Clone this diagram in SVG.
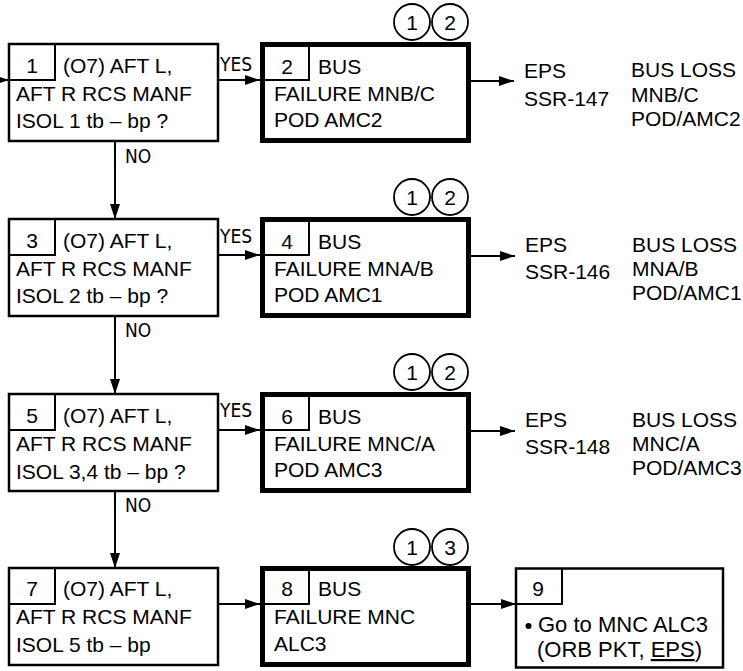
<svg xmlns="http://www.w3.org/2000/svg" width="743" height="671" viewBox="0 0 743 671">
<style>
  text { font-family: "Liberation Sans", Arial, sans-serif; font-size: 21px; fill: #000; }
  .lbl { font-family: "DejaVu Sans Condensed", "Liberation Sans", sans-serif; font-size: 19px; }
  .mid { text-anchor: middle; }
  .box { fill: #fff; stroke: #000; stroke-width: 2.5; }
  .thick { fill: #fff; stroke: #000; stroke-width: 5; }
  .sep { fill: none; stroke: #000; stroke-width: 2; }
  .circ { fill: #fff; stroke: #000; stroke-width: 1.8; }
  .conn { fill: none; stroke: #000; stroke-width: 2; marker-end: url(#arr); }
</style>
<defs>
  <marker id="arr" markerUnits="userSpaceOnUse" markerWidth="15" markerHeight="10" refX="15" refY="5" orient="auto">
    <path d="M0,0 L15,5 L0,10 z" fill="#000"/>
  </marker>
</defs>
<rect width="743" height="671" fill="#fff"/>

<g id="connectors">
  <line class="conn" x1="-10" y1="80" x2="9" y2="80"/>
  <line class="conn" x1="218" y1="80" x2="260" y2="80"/>
  <line class="conn" x1="471" y1="81" x2="514" y2="81"/>
  <line class="conn" x1="115" y1="141" x2="115" y2="219"/>
  <line class="conn" x1="218" y1="255" x2="260" y2="255"/>
  <line class="conn" x1="471" y1="256" x2="515" y2="256"/>
  <line class="conn" x1="115" y1="316" x2="115" y2="394"/>
  <line class="conn" x1="218" y1="430" x2="260" y2="430"/>
  <line class="conn" x1="471" y1="431" x2="515" y2="431"/>
  <line class="conn" x1="115" y1="491" x2="115" y2="568"/>
  <line class="conn" x1="218" y1="604" x2="260" y2="604"/>
  <line class="conn" x1="471" y1="604" x2="516" y2="604"/>
  <text class="lbl" x="220" y="71">YES</text>
  <text class="lbl" x="220" y="243">YES</text>
  <text class="lbl" x="220" y="417">YES</text>
  <text class="lbl" x="125" y="163">NO</text>
  <text class="lbl" x="125" y="337">NO</text>
  <text class="lbl" x="125" y="512">NO</text>
</g>

<g id="node1">
  <rect class="box" x="9" y="44" width="209" height="97"/>
  <path class="sep" d="M55,44 V80 H9"/>
  <text class="mid" x="32" y="72.5">1</text>
  <text x="63" y="72.5">(O7) AFT L,</text>
  <text x="16" y="100.5">AFT R RCS MANF</text>
  <text x="16" y="128">ISOL 1 tb – bp ?</text>
</g>
<g id="node2">
  <rect class="thick" x="262.5" y="44.5" width="206" height="96"/>
  <path class="sep" d="M309,44.5 V80 H262.5"/>
  <text class="mid" x="287" y="74">2</text>
  <text x="318" y="74">BUS</text>
  <text x="274" y="100.5">FAILURE MNB/C</text>
  <text x="274" y="127">POD AMC2</text>
  <circle class="circ" cx="412" cy="22" r="18"/>
  <circle class="circ" cx="450" cy="22" r="18"/>
  <text class="mid" x="412" y="29.5">1</text>
  <text class="mid" x="450" y="29.5">2</text>
</g>
<g id="eps1">
  <text x="524" y="78">EPS</text>
  <text x="524" y="106">SSR-147</text>
  <text x="631" y="77">BUS LOSS</text>
  <text x="631" y="101.5">MNB/C</text>
  <text x="631" y="126">POD/AMC2</text>
</g>

<g id="node3">
  <rect class="box" x="9" y="219" width="209" height="97"/>
  <path class="sep" d="M55,219 V255 H9"/>
  <text class="mid" x="32" y="247.5">3</text>
  <text x="63" y="247.5">(O7) AFT L,</text>
  <text x="16" y="275.5">AFT R RCS MANF</text>
  <text x="16" y="303">ISOL 2 tb – bp ?</text>
</g>
<g id="node4">
  <rect class="thick" x="262.5" y="219.5" width="206" height="96"/>
  <path class="sep" d="M309,219.5 V255 H262.5"/>
  <text class="mid" x="287" y="249">4</text>
  <text x="318" y="249">BUS</text>
  <text x="274" y="275.5">FAILURE MNA/B</text>
  <text x="274" y="302">POD AMC1</text>
  <circle class="circ" cx="412" cy="197" r="18"/>
  <circle class="circ" cx="450" cy="197" r="18"/>
  <text class="mid" x="412" y="204.5">1</text>
  <text class="mid" x="450" y="204.5">2</text>
</g>
<g id="eps2">
  <text x="525" y="252">EPS</text>
  <text x="525" y="279">SSR-146</text>
  <text x="632" y="252">BUS LOSS</text>
  <text x="632" y="276">MNA/B</text>
  <text x="632" y="300">POD/AMC1</text>
</g>

<g id="node5">
  <rect class="box" x="9" y="394" width="209" height="97"/>
  <path class="sep" d="M55,394 V430 H9"/>
  <text class="mid" x="32" y="423">5</text>
  <text x="63" y="423">(O7) AFT L,</text>
  <text x="16" y="451">AFT R RCS MANF</text>
  <text x="16" y="479">ISOL 3,4 tb – bp ?</text>
</g>
<g id="node6">
  <rect class="thick" x="262.5" y="394.5" width="206" height="96"/>
  <path class="sep" d="M309,394.5 V430 H262.5"/>
  <text class="mid" x="287" y="424">6</text>
  <text x="318" y="424">BUS</text>
  <text x="274" y="450.5">FAILURE MNC/A</text>
  <text x="274" y="477">POD AMC3</text>
  <circle class="circ" cx="412" cy="372" r="18"/>
  <circle class="circ" cx="450" cy="372" r="18"/>
  <text class="mid" x="412" y="379.5">1</text>
  <text class="mid" x="450" y="379.5">2</text>
</g>
<g id="eps3">
  <text x="525" y="427">EPS</text>
  <text x="525" y="454">SSR-148</text>
  <text x="632" y="427">BUS LOSS</text>
  <text x="632" y="451">MNC/A</text>
  <text x="632" y="475">POD/AMC3</text>
</g>

<g id="node7">
  <rect class="box" x="9" y="568" width="209" height="97"/>
  <path class="sep" d="M55,568 V604 H9"/>
  <text class="mid" x="32" y="596">7</text>
  <text x="63" y="596">(O7) AFT L,</text>
  <text x="16" y="624">AFT R RCS MANF</text>
  <text x="16" y="652">ISOL 5 tb – bp</text>
</g>
<g id="node8">
  <rect class="thick" x="262.5" y="568.5" width="206" height="96"/>
  <path class="sep" d="M309,568.5 V604 H262.5"/>
  <text class="mid" x="287" y="596">8</text>
  <text x="318" y="596">BUS</text>
  <text x="274" y="624">FAILURE MNC</text>
  <text x="274" y="651">ALC3</text>
  <circle class="circ" cx="412" cy="547" r="18"/>
  <circle class="circ" cx="450" cy="547" r="18"/>
  <text class="mid" x="412" y="554.5">1</text>
  <text class="mid" x="450" y="554.5">3</text>
</g>

<g id="node9">
  <rect class="box" x="516" y="568.5" width="207" height="99"/>
  <path class="sep" d="M562,568.5 V604 H516"/>
  <text class="mid" x="538" y="596">9</text>
  <circle cx="528.5" cy="626" r="3" fill="#000"/>
  <text x="538" y="632" style="font-size:22px">Go to MNC ALC3</text>
  <text x="537" y="657" style="font-size:22px">(ORB PKT, <tspan text-decoration="underline">EPS</tspan>)</text>
</g>
</svg>
